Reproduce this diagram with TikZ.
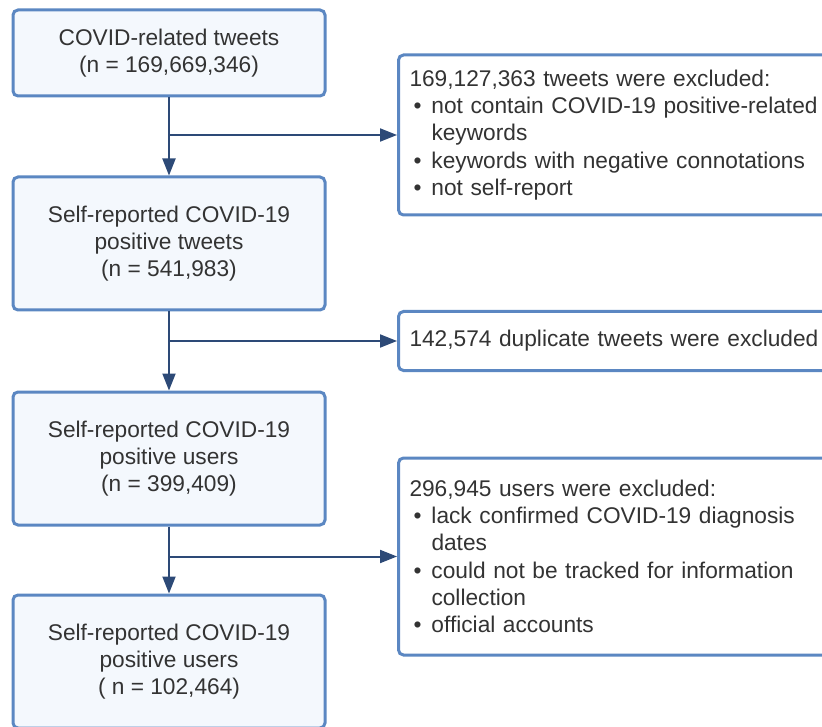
\documentclass[tikz,border=0pt]{standalone}
\usepackage{fontspec}
\setmainfont{Liberation Sans}
\usetikzlibrary{arrows.meta}
\definecolor{boxedge}{HTML}{5B87C2}
\definecolor{boxfill}{HTML}{F4F8FD}
\definecolor{flowcol}{HTML}{2D4A77}
\definecolor{textcol}{HTML}{333333}
\tikzset{
  stagebox/.style={rectangle, rounded corners=5pt, draw=boxedge, line width=3pt, fill=boxfill,
                   minimum width=312pt, align=center, text=textcol},
  exclbox/.style={rectangle, rounded corners=5pt, draw=boxedge, line width=3pt, fill=white, anchor=west,
                  text width=416pt, inner xsep=11pt, align=left, text=textcol},
  flowarrow/.style={draw=flowcol, line width=2pt, -{Triangle[length=17pt,width=13pt]}},
}
\newcommand{\bul}{\makebox[16pt][c]{\textbullet}\hspace*{6pt}}
\newcommand{\cnt}{\hspace*{22pt}}

\begin{document}
\begin{tikzpicture}[x=1pt, y=1pt, font=\fontsize{22.7pt}{27.3pt}\selectfont]
\clip (0,0) rectangle (822,-727);

% main stages
\node[stagebox, minimum height=86pt]  (tweets)   at (169,-53)    {COVID-related tweets\\(n = 169,669,346)};
\node[stagebox, minimum height=133pt] (postw)    at (169,-243.5) {Self-reported COVID-19\\positive tweets\\(n = 541,983)};
\node[stagebox, minimum height=133pt] (posusers) at (169,-458.5) {Self-reported COVID-19\\positive users\\(n = 399,409)};
\node[stagebox, minimum height=133pt] (final)    at (169,-661.5) {Self-reported COVID-19\\positive users\\( n = 102,464)};

% exclusions
\node[exclbox, minimum height=160pt] (excl1) at (397,-135) {169,127,363 tweets were excluded:\\
\bul not contain COVID-19 positive-related\\
\cnt keywords\\
\bul keywords with negative connotations\\
\bul not self-report};
\node[exclbox, minimum height=59pt] (excl2) at (397,-341) {142,574 duplicate tweets were excluded};
\node[exclbox, minimum height=197pt] (excl3) at (397,-556.5) {296,945 users were excluded:\\
\bul lack confirmed COVID-19 diagnosis\\
\cnt dates\\
\bul could not be tracked for information\\
\cnt collection\\
\bul official accounts};

% arrows
\draw[flowarrow] (tweets.south) -- (postw.north);
\draw[flowarrow] (postw.south) -- (posusers.north);
\draw[flowarrow] (posusers.south) -- (final.north);

\coordinate (split1) at (tweets.south |- excl1.west);
\coordinate (split2) at (postw.south |- excl2.west);
\coordinate (split3) at (posusers.south |- excl3.west);
\draw[flowarrow] (split1) -- (excl1.west);
\draw[flowarrow] (split2) -- (excl2.west);
\draw[flowarrow] (split3) -- (excl3.west);
\end{tikzpicture}
\end{document}
